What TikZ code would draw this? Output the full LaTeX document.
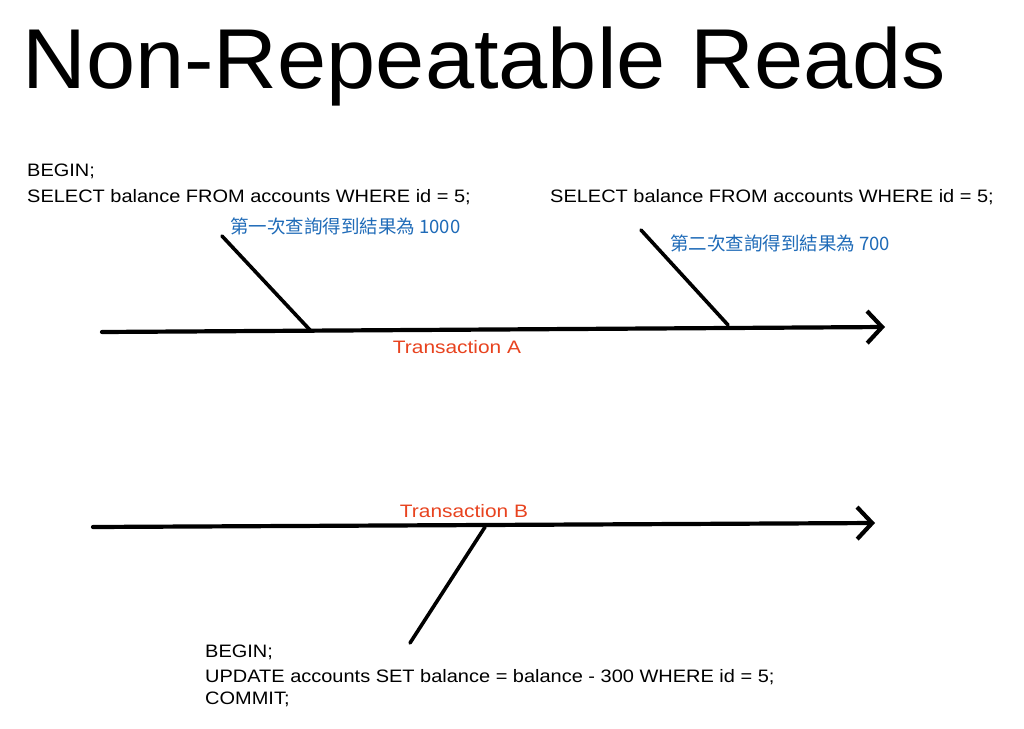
\documentclass[tikz,border=0pt]{standalone}
\usepackage{fontspec}
\setmainfont{Liberation Sans}
\newfontfamily\codefont[FakeStretch=1.11]{Liberation Sans}
\newfontfamily\labelfont[FakeStretch=1.16]{Liberation Sans}
\newfontfamily\titlefont[FakeStretch=1.04]{Liberation Sans}
\newfontfamily\cjkfont{Noto Sans CJK TC}
\usetikzlibrary{arrows.meta}
\definecolor{txblue}{HTML}{1F6BB8}
\definecolor{txred}{HTML}{E8431F}
\tikzset{
  timeline/.style={line width=4.2pt, line cap=round, line join=round,
    -{Straight Barb[length=15pt,width=32pt,line width=4.2pt]}},
  tick/.style={line width=3.6pt, line cap=round},
  code/.style={inner sep=0pt, anchor=base west, font=\codefont\fontsize{18}{25}\selectfont, align=left},
  note/.style={inner sep=0pt, anchor=base west, text=txblue, font=\cjkfont\fontsize{18.5}{20}\selectfont},
  txlabel/.style={inner sep=0pt, anchor=base, text=txred, font=\labelfont\fontsize{18}{20}\selectfont},
  titletext/.style={inner sep=0pt, anchor=base west, font=\titlefont\fontsize{85}{90}\selectfont}
}
\begin{document}
\begin{tikzpicture}[x=1pt,y=-1pt]
\fill[white] (0,0) rectangle (1024,728);
\useasboundingbox (0,0) rectangle (1024,728);

\node[titletext] (title) at (22,88) {Non-Repeatable Reads};

% Transaction A
\coordinate (a0) at (102,332);
\coordinate (a1) at (885,327);
\draw[timeline] (a0) -- (a1);
\coordinate (t1top) at (222,236);
\coordinate (t1bot) at (310,330);
\draw[tick] (t1top) -- (t1bot);
\coordinate (t2top) at (641,230);
\coordinate (t2bot) at (728,325);
\draw[tick] (t2top) -- (t2bot);
\node[txlabel] (la) at (457,353) {Transaction A};

\node[code] (qa1) at (27,176) {BEGIN;};
\node[code] (qa2) at (27,202) {SELECT balance FROM accounts WHERE id = 5;};
\node[note] (na1) at (230,233) {第一次查詢得到結果為 1000};
\node[code] (qa3) at (550,202) {SELECT balance FROM accounts WHERE id = 5;};
\node[note] (na2) at (670,250) {第二次查詢得到結果為 700};

% Transaction B
\coordinate (b0) at (93,527);
\coordinate (b1) at (875,523);
\draw[timeline] (b0) -- (b1);
\coordinate (t3top) at (485,527);
\coordinate (t3bot) at (410,643);
\draw[tick] (t3top) -- (t3bot);
\node[txlabel] (lb) at (464,517) {Transaction B};

\node[code] (qb1) at (205,657) {BEGIN;};
\node[code] (qb2) at (205,682) {UPDATE accounts SET balance = balance - 300 WHERE id = 5;};
\node[code] (qb3) at (205,704) {COMMIT;};
\end{tikzpicture}
\end{document}
